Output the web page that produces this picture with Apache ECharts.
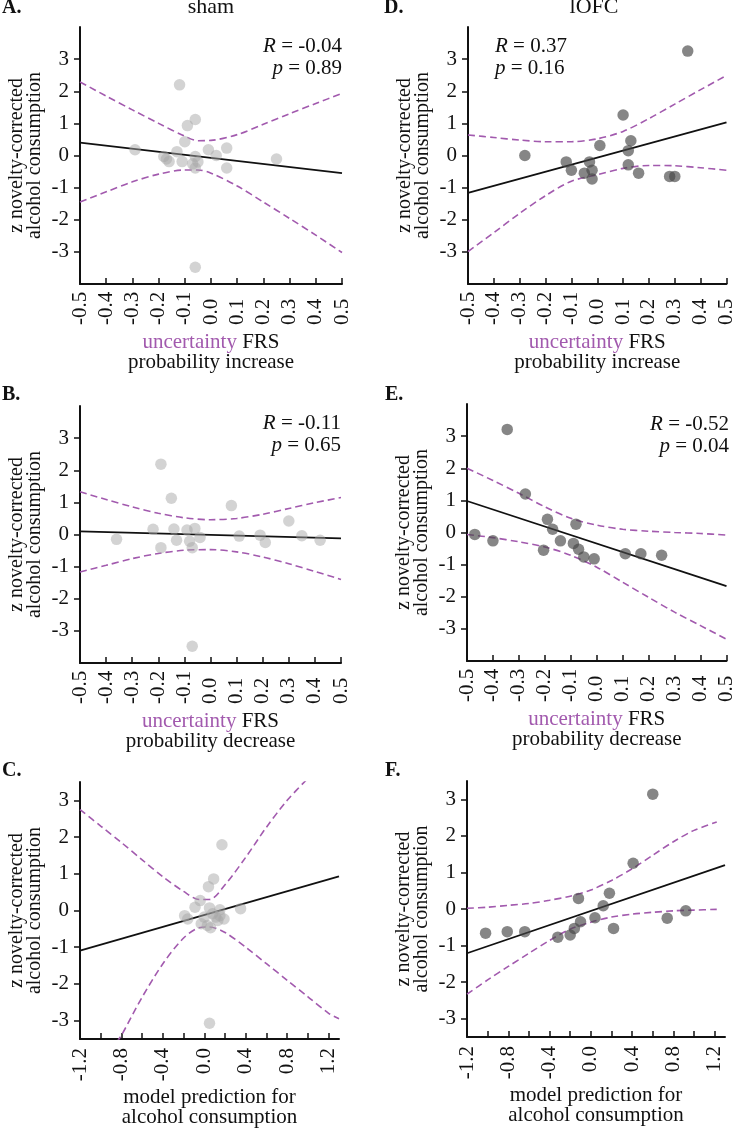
<!DOCTYPE html>
<html>
<head>
<meta charset="utf-8">
<script src="https://cdn.jsdelivr.net/npm/echarts@6/dist/echarts.min.js"></script>
<style>
  html, body { margin: 0; padding: 0; background: #fff; }
  #main { width: 737px; height: 1131px; }
</style>
</head>
<body>
<div id="main"></div>
<script>
// tick values
var uncTicks = [-0.5, -0.4, -0.3, -0.2, -0.1, 0.0, 0.1, 0.2, 0.3, 0.4, 0.5];
var modelTicks = [-1.2, -1.0, -0.8, -0.6, -0.4, -0.2, 0.0, 0.2, 0.4, 0.6, 0.8, 1.0, 1.2];
var modelLabels = [-1.2, -0.8, -0.4, 0.0, 0.4, 0.8, 1.2];
var yTicks = [-3, -2, -1, 0, 1, 2, 3];

// A. sham, probability increase
var shamIncPts = [[-0.29, 0.18], [-0.12, 2.2], [-0.06, 1.12], [-0.09, 0.93], [-0.10, 0.43], [-0.13, 0.12],
  [-0.18, -0.03], [-0.17, -0.11], [-0.16, -0.19], [-0.11, -0.19], [-0.06, -0.03], [-0.05, -0.2],
  [-0.07, -0.26], [-0.06, -0.39], [-0.01, 0.18], [0.02, 0.0], [0.06, 0.23], [0.06, -0.39], [0.25, -0.11], [-0.06, -3.48]];
var shamIncFit = [[-0.5, 0.40], [0.5, -0.55]];
var shamIncHi = [[-0.5, 2.29], [-0.4, 1.85], [-0.3, 1.42], [-0.2, 1.0], [-0.1, 0.6], [-0.05, 0.46], [0, 0.47],
  [0.1, 0.65], [0.2, 0.97], [0.3, 1.3], [0.4, 1.62], [0.5, 1.93]];
var shamIncLo = [[-0.5, -1.45], [-0.4, -1.13], [-0.3, -0.82], [-0.2, -0.58], [-0.1, -0.45], [-0.05, -0.45], [0, -0.55],
  [0.1, -0.95], [0.2, -1.45], [0.3, -1.96], [0.4, -2.48], [0.5, -3.02]];

// D. lOFC, probability increase
var ofcIncPts = [[-0.28, 0.0], [-0.12, -0.2], [-0.10, -0.46], [-0.05, -0.55], [-0.03, -0.2], [-0.02, -0.46],
  [-0.02, -0.73], [0.01, 0.31], [0.10, 1.26], [0.13, 0.46], [0.12, 0.15], [0.12, -0.29], [0.16, -0.55],
  [0.28, -0.65], [0.30, -0.65], [0.35, 3.25]];
var ofcIncFit = [[-0.5, -1.16], [0.5, 1.03]];
var ofcIncHi = [[-0.5, 0.64], [-0.4, 0.56], [-0.3, 0.48], [-0.2, 0.43], [-0.1, 0.43], [0, 0.52], [0.1, 0.75],
  [0.2, 1.15], [0.3, 1.6], [0.4, 2.05], [0.5, 2.49]];
var ofcIncLo = [[-0.5, -2.99], [-0.4, -2.4], [-0.3, -1.8], [-0.2, -1.25], [-0.1, -0.8], [0, -0.6], [0.1, -0.4],
  [0.2, -0.31], [0.3, -0.32], [0.4, -0.38], [0.5, -0.46]];

// B. sham, probability decrease
var shamDecPts = [[-0.36, -0.15], [-0.22, 0.16], [-0.19, 2.19], [-0.19, -0.41], [-0.15, 1.13], [-0.14, 0.17],
  [-0.13, -0.18], [-0.09, 0.14], [-0.08, -0.21], [-0.07, -0.41], [-0.06, 0.19], [-0.04, -0.09], [-0.07, -3.48],
  [0.08, 0.9], [0.11, -0.05], [0.19, -0.02], [0.21, -0.25], [0.30, 0.42], [0.35, -0.04], [0.42, -0.18]];
var shamDecFit = [[-0.5, 0.10], [0.5, -0.12]];
var shamDecHi = [[-0.5, 1.33], [-0.4, 1.09], [-0.3, 0.86], [-0.2, 0.66], [-0.1, 0.52], [0, 0.46], [0.1, 0.5],
  [0.2, 0.63], [0.3, 0.81], [0.4, 0.99], [0.5, 1.15]];
var shamDecLo = [[-0.5, -1.17], [-0.4, -0.96], [-0.3, -0.75], [-0.2, -0.59], [-0.1, -0.49], [0, -0.47], [0.1, -0.54],
  [0.2, -0.7], [0.3, -0.91], [0.4, -1.15], [0.5, -1.4]];

// E. lOFC, probability decrease
var ofcDecPts = [[-0.47, -0.06], [-0.40, -0.26], [-0.345, 3.21], [-0.275, 1.2], [-0.205, -0.55], [-0.19, 0.41],
  [-0.17, 0.1], [-0.14, -0.26], [-0.09, -0.34], [-0.08, 0.26], [-0.07, -0.52], [-0.05, -0.76], [-0.01, -0.82],
  [0.11, -0.66], [0.17, -0.66], [0.25, -0.71]];
var ofcDecFit = [[-0.5, 0.98], [0.5, -1.67]];
var ofcDecHi = [[-0.5, 2.0], [-0.4, 1.62], [-0.3, 1.22], [-0.2, 0.8], [-0.1, 0.44], [0, 0.23], [0.1, 0.1],
  [0.2, 0.04], [0.3, 0.0], [0.4, -0.03], [0.5, -0.08]];
var ofcDecLo = [[-0.5, -0.06], [-0.4, -0.16], [-0.3, -0.29], [-0.2, -0.45], [-0.1, -0.71], [0, -1.08], [0.1, -1.55],
  [0.2, -2.02], [0.3, -2.48], [0.4, -2.9], [0.5, -3.32]];

// C. sham, model prediction
var shamModPts = [[0.17, 1.79], [0.09, 0.86], [0.04, 0.65], [-0.04, 0.27], [-0.09, 0.09], [0.05, 0.07], [0.15, 0.02],
  [0.35, 0.05], [-0.19, -0.14], [-0.16, -0.23], [-0.03, -0.36], [0.03, -0.41], [0.06, -0.47], [0.11, -0.18],
  [0.15, -0.14], [0.19, -0.23], [0.08, -0.09], [0.0, -0.18], [0.13, -0.27], [0.05, -3.07]];
var shamModFit = [[-1.2, -1.09], [1.3, 0.93]];
var shamModHi = [[-1.2, 2.75], [-1.0, 2.3], [-0.8, 1.85], [-0.6, 1.38], [-0.4, 0.92], [-0.2, 0.52], [-0.05, 0.3],
  [0.05, 0.3], [0.2, 0.7], [0.4, 1.45], [0.6, 2.27], [0.8, 3.0], [1.0, 3.6]];
var shamModLo = [[-0.85, -3.6], [-0.8, -3.4], [-0.6, -2.36], [-0.4, -1.45], [-0.2, -0.75], [-0.05, -0.47], [0.05, -0.45],
  [0.2, -0.6], [0.4, -1.0], [0.6, -1.45], [0.8, -1.9], [1.0, -2.35], [1.2, -2.8], [1.3, -2.95]];

// F. lOFC, model prediction
var ofcModPts = [[-1.02, -0.66], [-0.81, -0.62], [-0.64, -0.62], [-0.32, -0.77], [-0.2, -0.71], [-0.16, -0.53],
  [-0.12, 0.29], [-0.10, -0.35], [0.04, -0.24], [0.12, 0.09], [0.18, 0.43], [0.22, -0.53], [0.41, 1.25],
  [0.60, 3.14], [0.74, -0.25], [0.92, -0.05]];
var ofcModFit = [[-1.2, -1.21], [1.3, 1.2]];
var ofcModHi = [[-1.2, 0.02], [-1.0, 0.05], [-0.8, 0.1], [-0.6, 0.15], [-0.4, 0.24], [-0.2, 0.35], [0, 0.52],
  [0.2, 0.78], [0.4, 1.1], [0.6, 1.47], [0.8, 1.84], [1.0, 2.15], [1.22, 2.38]];
var ofcModLo = [[-1.2, -2.33], [-1.0, -1.94], [-0.8, -1.57], [-0.6, -1.21], [-0.4, -0.86], [-0.2, -0.55], [0, -0.36],
  [0.2, -0.22], [0.4, -0.14], [0.6, -0.09], [0.8, -0.05], [1.0, -0.03], [1.22, -0.01]];

var FONT = 'Liberation Serif, Times New Roman, serif';
var INK = '#111';
var PURPLE = '#a25aae';
var SHAM_DOT = 'rgba(165,165,165,0.62)';
var OFC_DOT = 'rgba(70,70,70,0.82)';

var grids = [
  { left: 80, top: 27, width: 262, height: 257 },   // A
  { left: 468, top: 27, width: 261, height: 257 },  // D
  { left: 80, top: 406, width: 261, height: 257 },  // B
  { left: 467, top: 404, width: 262, height: 257 }, // E
  { left: 80, top: 782, width: 259, height: 257 },  // C
  { left: 467, top: 781, width: 258, height: 256 }  // F
];

function xUnc(i, word) {
  return {
    gridIndex: i, type: 'value', min: -0.5, max: 0.5,
    axisLine: { show: true, onZero: false, lineStyle: { color: INK, width: 2 } },
    axisTick: { show: true, inside: true, length: 6, customValues: uncTicks, lineStyle: { color: INK, width: 1.5 } },
    axisLabel: {
      customValues: uncTicks, rotate: 90, align: 'left', margin: 41,
      fontFamily: FONT, fontSize: 21, color: INK,
      formatter: function (v) { return v.toFixed(1); }
    },
    splitLine: { show: false },
    name: '{u|uncertainty} FRS\nprobability ' + word,
    nameLocation: 'middle', nameGap: 48,
    nameTextStyle: {
      fontFamily: FONT, fontSize: 21, color: INK, lineHeight: 20,
      rich: { u: { fontFamily: FONT, fontSize: 21, color: PURPLE, lineHeight: 20 } }
    }
  };
}

function xModel(i) {
  return {
    gridIndex: i, type: 'value', min: -1.2, max: 1.3,
    axisLine: { show: true, onZero: false, lineStyle: { color: INK, width: 2 } },
    axisTick: { show: true, inside: true, length: 6, customValues: modelTicks, lineStyle: { color: INK, width: 1.5 } },
    axisLabel: {
      customValues: modelLabels, rotate: 90, margin: 9,
      fontFamily: FONT, fontSize: 21, color: INK,
      formatter: function (v) { return v.toFixed(1); }
    },
    splitLine: { show: false },
    name: 'model prediction for\nalcohol consumption',
    nameLocation: 'middle', nameGap: 48,
    nameTextStyle: { fontFamily: FONT, fontSize: 21, color: INK, lineHeight: 20 }
  };
}

function yAx(i, lim) {
  return {
    gridIndex: i, type: 'value', min: -lim, max: lim,
    axisLine: { show: true, onZero: false, lineStyle: { color: INK, width: 2 } },
    axisTick: { show: true, inside: false, length: 6, customValues: yTicks, lineStyle: { color: INK, width: 1.5 } },
    axisLabel: { customValues: yTicks, margin: 11, fontFamily: FONT, fontSize: 21, color: INK },
    splitLine: { show: false },
    name: 'z novelty-corrected\nalcohol consumption',
    nameLocation: 'middle', nameGap: 36,
    nameTextStyle: { fontFamily: FONT, fontSize: 20, color: INK, lineHeight: 18 }
  };
}

function panelSeries(i, pts, fit, hi, lo, dot) {
  var band = function (d) {
    return {
      type: 'line', xAxisIndex: i, yAxisIndex: i, data: d, smooth: 0.3, symbol: 'none',
      lineStyle: { color: PURPLE, width: 1.6, type: [7, 4] }, silent: true, z: 2
    };
  };
  return [
    band(hi), band(lo),
    {
      type: 'line', xAxisIndex: i, yAxisIndex: i, data: fit, symbol: 'none',
      lineStyle: { color: INK, width: 1.8 }, silent: true, z: 3
    },
    {
      type: 'scatter', xAxisIndex: i, yAxisIndex: i, data: pts, symbolSize: 11.5,
      itemStyle: { color: dot }, silent: true, z: 4
    }
  ];
}

function txt(x, y, s, align, bold, size) {
  var fs = size || 21;
  return {
    type: 'text', x: x, y: y, silent: true,
    style: {
      text: s, fill: INK, align: align || 'left', verticalAlign: 'middle',
      font: (bold ? 'bold ' : '') + fs + 'px ' + FONT,
      rich: { i: { fontStyle: 'italic', fontSize: fs, fontFamily: FONT, fill: INK } }
    }
  };
}

var chart = echarts.init(document.getElementById('main'), null, { renderer: 'canvas' });

var option = {
  animation: false,
  backgroundColor: '#fff',
  grid: grids,
  xAxis: [xUnc(0, 'increase'), xUnc(1, 'increase'), xUnc(2, 'decrease'), xUnc(3, 'decrease'), xModel(4), xModel(5)],
  yAxis: [yAx(0, 4), yAx(1, 4), yAx(2, 4), yAx(3, 4), yAx(4, 3.5), yAx(5, 3.5)],
  series: [].concat(
    panelSeries(0, shamIncPts, shamIncFit, shamIncHi, shamIncLo, SHAM_DOT),
    panelSeries(1, ofcIncPts, ofcIncFit, ofcIncHi, ofcIncLo, OFC_DOT),
    panelSeries(2, shamDecPts, shamDecFit, shamDecHi, shamDecLo, SHAM_DOT),
    panelSeries(3, ofcDecPts, ofcDecFit, ofcDecHi, ofcDecLo, OFC_DOT),
    panelSeries(4, shamModPts, shamModFit, shamModHi, shamModLo, SHAM_DOT),
    panelSeries(5, ofcModPts, ofcModFit, ofcModHi, ofcModLo, OFC_DOT)
  ),
  graphic: [
    txt(2, 8, 'A.', 'left', true, 20),
    txt(211, 7, 'sham', 'center', false, 22),
    txt(384, 8, 'D.', 'left', true, 20),
    txt(594, 7, 'lOFC', 'center', false, 22),
    txt(2, 395, 'B.', 'left', true, 20),
    txt(385, 395, 'E.', 'left', true, 20),
    txt(2, 771, 'C.', 'left', true, 20),
    txt(385, 771, 'F.', 'left', true, 20),
    // correlation stats
    txt(342, 46, '{i|R} = -0.04', 'right'),
    txt(342, 68, '{i|p} = 0.89', 'right'),
    txt(495, 46, '{i|R} = 0.37', 'left'),
    txt(495, 68, '{i|p} = 0.16', 'left'),
    txt(341, 423, '{i|R} = -0.11', 'right'),
    txt(341, 445, '{i|p} = 0.65', 'right'),
    txt(729, 424, '{i|R} = -0.52', 'right'),
    txt(729, 446, '{i|p} = 0.04', 'right')
  ]
};

chart.setOption(option);
</script>
</body>
</html>
